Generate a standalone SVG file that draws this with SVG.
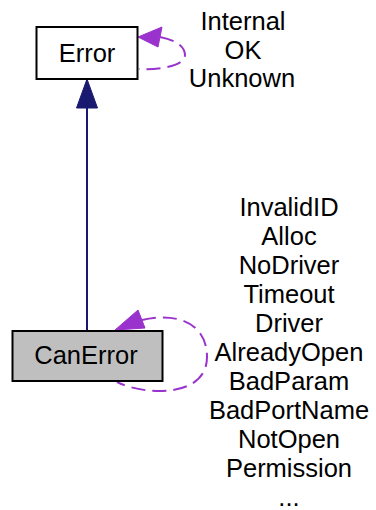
<svg xmlns="http://www.w3.org/2000/svg" width="376" height="510" viewBox="0 0 376 510">
<style>
text{font-family:"Liberation Sans",Arial,sans-serif;font-size:25.5px;fill:#000;text-anchor:middle}
.box{stroke:#000;stroke-width:2}
.inh{stroke:#191970;stroke-width:2;fill:none}
.dep{stroke:#9a32cd;stroke-width:2;fill:none;stroke-dasharray:14,7}
</style>
<rect width="376" height="510" fill="#fff"/>
<g id="connectors">
<path class="inh" d="M87,331 V106"/>
<polygon points="87,79 76.5,108 97.5,108" fill="#191970" stroke="#191970" stroke-width="1"/>
<path class="dep" d="M160,37 C175,40 185,46 185,55 C185,66 160,70 139,69"/>
<polygon points="138,37 162,27 158,47" fill="#9a32cd" stroke="#9a32cd" stroke-width="1"/>
<path class="dep" d="M142,320 C175,312 207,322 207,357 C207,398 145,396 117,382"/>
<polygon points="115,330 138,310 145,328" fill="#9a32cd" stroke="#9a32cd" stroke-width="1"/>
</g>
<g id="node-error">
<rect class="box" x="36.5" y="27" width="101" height="52" fill="#fff"/>
<text x="87" y="61.5">Error</text>
</g>
<g id="node-canerror">
<rect class="box" x="12.5" y="331" width="150" height="50" fill="#bfbfbf"/>
<text x="86" y="364">CanError</text>
</g>
<g id="label-error">
<text x="243" y="30">Internal</text>
<text x="243" y="58.5">OK</text>
<text x="242" y="87">Unknown</text>
</g>
<g id="label-canerror">
<text x="289" y="216">InvalidID</text>
<text x="289" y="245">Alloc</text>
<text x="289" y="274">NoDriver</text>
<text x="289" y="303">Timeout</text>
<text x="289" y="332">Driver</text>
<text x="289" y="361">AlreadyOpen</text>
<text x="289" y="390">BadParam</text>
<text x="289" y="419">BadPortName</text>
<text x="289" y="448">NotOpen</text>
<text x="289" y="477">Permission</text>
<text x="289" y="506">...</text>
</g>
</svg>
